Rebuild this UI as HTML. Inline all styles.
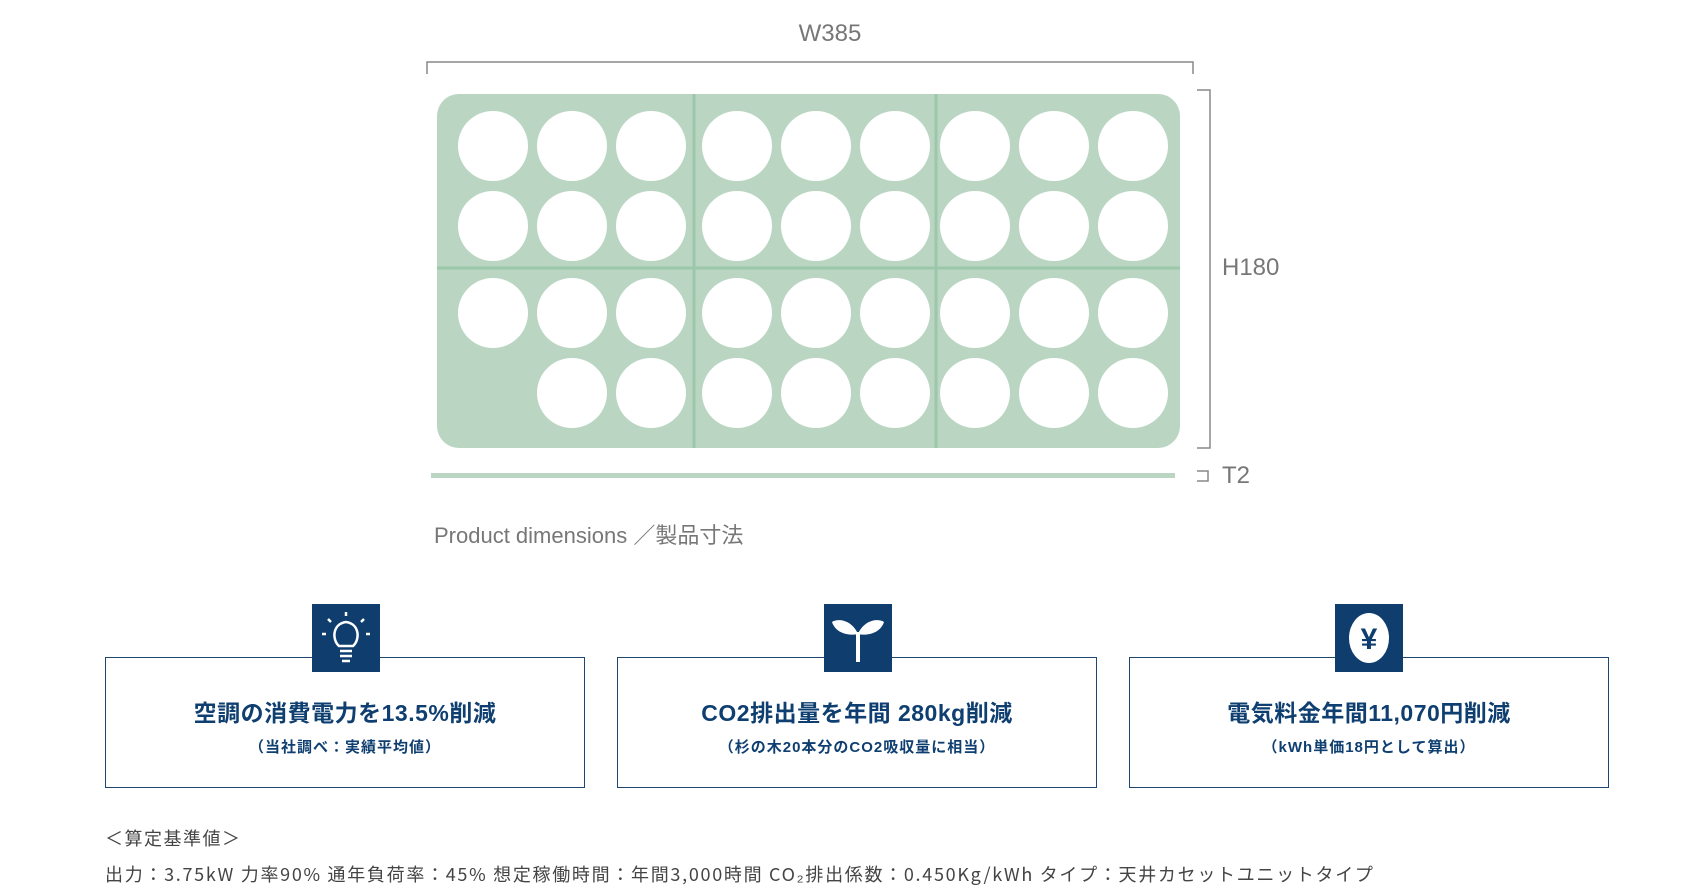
<!DOCTYPE html>
<html><head><meta charset="utf-8"><style>
body{margin:0;width:1695px;height:893px;background:#fff;position:relative;overflow:hidden;font-family:"Liberation Sans","Noto Sans CJK JP",sans-serif}
.a{position:absolute}
.box{position:absolute;top:657px;width:480px;height:131px;border:1.5px solid #1d4670;box-sizing:border-box;text-align:center;color:#0f3f70}
.box .t{position:absolute;top:36px;left:0;right:0;font-size:23px;font-weight:bold;letter-spacing:0.5px}
.box .s{position:absolute;top:78px;left:0;right:0;font-size:15px;font-weight:bold;letter-spacing:1px}
.ic{position:absolute;top:604px;width:68px;height:68px;background:#0e3d6e}
</style></head><body>
<svg class="a" style="left:0;top:0" width="1695" height="560">
<text x="830" y="41" font-size="24" fill="#777" text-anchor="middle" font-family="Liberation Sans">W385</text>
<path d="M427 74 V62 H1193 V74" fill="none" stroke="#888" stroke-width="1.5"/>
<rect x="437" y="94" width="743" height="354" rx="22" fill="#bad6c3"/>
<g stroke="#9cc7a9" stroke-width="3"><line x1="694" y1="94" x2="694" y2="448"/><line x1="936" y1="94" x2="936" y2="448"/><line x1="437" y1="268" x2="1180" y2="268"/></g>
<g fill="#fff" id="c">
</g>
<path d="M1197 90 H1210 V448 H1197" fill="none" stroke="#888" stroke-width="1.5"/>
<text x="1222" y="275" font-size="24" fill="#777" font-family="Liberation Sans">H180</text>
<rect x="431" y="473" width="744" height="5" fill="#bad6c3"/>
<path d="M1197 471 H1208 V481 H1197" fill="none" stroke="#888" stroke-width="1.5"/>
<text x="1222" y="483" font-size="24" fill="#777" font-family="Liberation Sans">T2</text>
<text x="434" y="543" font-size="22" fill="#777" font-family="Liberation Sans, Noto Sans CJK JP, sans-serif">Product dimensions ／製品寸法</text>
</svg>
<script>
var g=document.getElementById('c'),xs=[493,572,651,737,816,895,975,1054,1133],ys=[146,226,313,393],s='';
ys.forEach(function(y,r){xs.forEach(function(x,i){if(r==3&&i==0)return;s+='<ellipse cx="'+x+'" cy="'+y+'" rx="35" ry="35"/>';});});
g.innerHTML=s;
</script>
<div class="box" style="left:105px"><div class="t">空調の消費電力を13.5%削減</div><div class="s">（当社調べ：実績平均値）</div></div>
<div class="box" style="left:617px"><div class="t">CO2排出量を年間 280kg削減</div><div class="s">（杉の木20本分のCO2吸収量に相当）</div></div>
<div class="box" style="left:1129px"><div class="t">電気料金年間11,070円削減</div><div class="s">（kWh単価18円として算出）</div></div>
<div class="ic" style="left:312px"><svg width="68" height="68"><g stroke="#fff" stroke-width="2.5" fill="none"><path d="M27 42 C20 36 20 20 34 18 C48 20 48 36 41 42 Z"/><line x1="28" y1="47" x2="40" y2="47"/><line x1="28" y1="52" x2="40" y2="52"/><line x1="30" y1="57" x2="38" y2="57"/><line x1="34" y1="8" x2="34" y2="12"/><line x1="16" y1="15" x2="19" y2="18"/><line x1="52" y1="15" x2="49" y2="18"/><line x1="10" y1="30" x2="14" y2="30"/><line x1="54" y1="30" x2="58" y2="30"/></g></svg></div>
<div class="ic" style="left:824px"><svg width="68" height="68"><path d="M34 30 C28 16 14 14 8 18 C12 30 26 32 34 30Z M34 30 C40 16 54 14 60 18 C56 30 42 32 34 30Z" fill="#fff"/><rect x="32" y="28" width="4" height="30" fill="#fff"/></svg></div>
<div class="ic" style="left:1335px"><svg width="68" height="68"><ellipse cx="34" cy="34" rx="20" ry="25" fill="#fff"/><text x="34" y="45" font-size="30" font-weight="bold" fill="#0e3d6e" text-anchor="middle" font-family="Liberation Sans">¥</text></svg></div>
<div class="a" style="left:105px;top:825px;font-size:18px;color:#444;font-family:'Noto Sans CJK JP',sans-serif;letter-spacing:1.5px">＜算定基準値＞</div>
<div class="a" style="left:105px;top:861px;font-size:18px;color:#444;white-space:nowrap;font-family:'Noto Sans CJK JP',sans-serif;letter-spacing:1.7px">出力：3.75kW 力率90% 通年負荷率：45% 想定稼働時間：年間3,000時間 CO₂排出係数：0.450Kg/kWh タイプ：天井カセットユニットタイプ</div>
</body></html>
